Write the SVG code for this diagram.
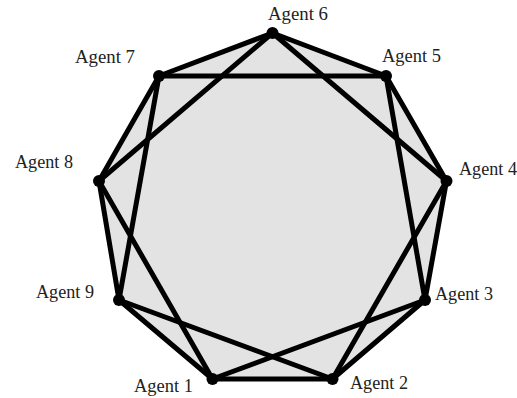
<svg xmlns="http://www.w3.org/2000/svg" width="517" height="398" viewBox="0 0 517 398">
<style>
.e{stroke:#000;stroke-width:5;stroke-linecap:round;fill:none}
.n{fill:#000}
.t{font-family:"Liberation Serif","Times New Roman",serif;font-size:18px;fill:#222}
</style>
<rect width="517" height="398" fill="#fff"/>
<polygon points="212.5,379 332.5,379 425,300 446.5,181 386,76 272.5,33 159,76 99,181 119,300" fill="#e3e3e3"/>
<g id="connectors">
<line class="e" x1="212.5" y1="379" x2="332.5" y2="379"/>
<line class="e" x1="332.5" y1="379" x2="425" y2="300"/>
<line class="e" x1="425" y1="300" x2="446.5" y2="181"/>
<line class="e" x1="446.5" y1="181" x2="386" y2="76"/>
<line class="e" x1="386" y1="76" x2="272.5" y2="33"/>
<line class="e" x1="272.5" y1="33" x2="159" y2="76"/>
<line class="e" x1="159" y1="76" x2="99" y2="181"/>
<line class="e" x1="99" y1="181" x2="119" y2="300"/>
<line class="e" x1="119" y1="300" x2="212.5" y2="379"/>
<line class="e" x1="212.5" y1="379" x2="425" y2="300"/>
<line class="e" x1="332.5" y1="379" x2="446.5" y2="181"/>
<line class="e" x1="425" y1="300" x2="386" y2="76"/>
<line class="e" x1="446.5" y1="181" x2="272.5" y2="33"/>
<line class="e" x1="386" y1="76" x2="159" y2="76"/>
<line class="e" x1="272.5" y1="33" x2="99" y2="181"/>
<line class="e" x1="159" y1="76" x2="119" y2="300"/>
<line class="e" x1="99" y1="181" x2="212.5" y2="379"/>
<line class="e" x1="119" y1="300" x2="332.5" y2="379"/>
</g>
<g id="agent1"><circle class="n" cx="212.5" cy="379" r="6"/><text class="t" x="134" y="392" textLength="59" lengthAdjust="spacingAndGlyphs">Agent 1</text></g>
<g id="agent2"><circle class="n" cx="332.5" cy="379" r="6"/><text class="t" x="350" y="389" textLength="58" lengthAdjust="spacingAndGlyphs">Agent 2</text></g>
<g id="agent3"><circle class="n" cx="425" cy="300" r="6"/><text class="t" x="435" y="300" textLength="58" lengthAdjust="spacingAndGlyphs">Agent 3</text></g>
<g id="agent4"><circle class="n" cx="446.5" cy="181" r="6"/><text class="t" x="459" y="175" textLength="58" lengthAdjust="spacingAndGlyphs">Agent 4</text></g>
<g id="agent5"><circle class="n" cx="386" cy="76" r="6"/><text class="t" x="382" y="62" textLength="59" lengthAdjust="spacingAndGlyphs">Agent 5</text></g>
<g id="agent6"><circle class="n" cx="272.5" cy="33" r="6"/><text class="t" x="268" y="20" textLength="60" lengthAdjust="spacingAndGlyphs">Agent 6</text></g>
<g id="agent7"><circle class="n" cx="159" cy="76" r="6"/><text class="t" x="75" y="63" textLength="60" lengthAdjust="spacingAndGlyphs">Agent 7</text></g>
<g id="agent8"><circle class="n" cx="99" cy="181" r="6"/><text class="t" x="15" y="168" textLength="58" lengthAdjust="spacingAndGlyphs">Agent 8</text></g>
<g id="agent9"><circle class="n" cx="119" cy="300" r="6"/><text class="t" x="36" y="298" textLength="58" lengthAdjust="spacingAndGlyphs">Agent 9</text></g>
</svg>
